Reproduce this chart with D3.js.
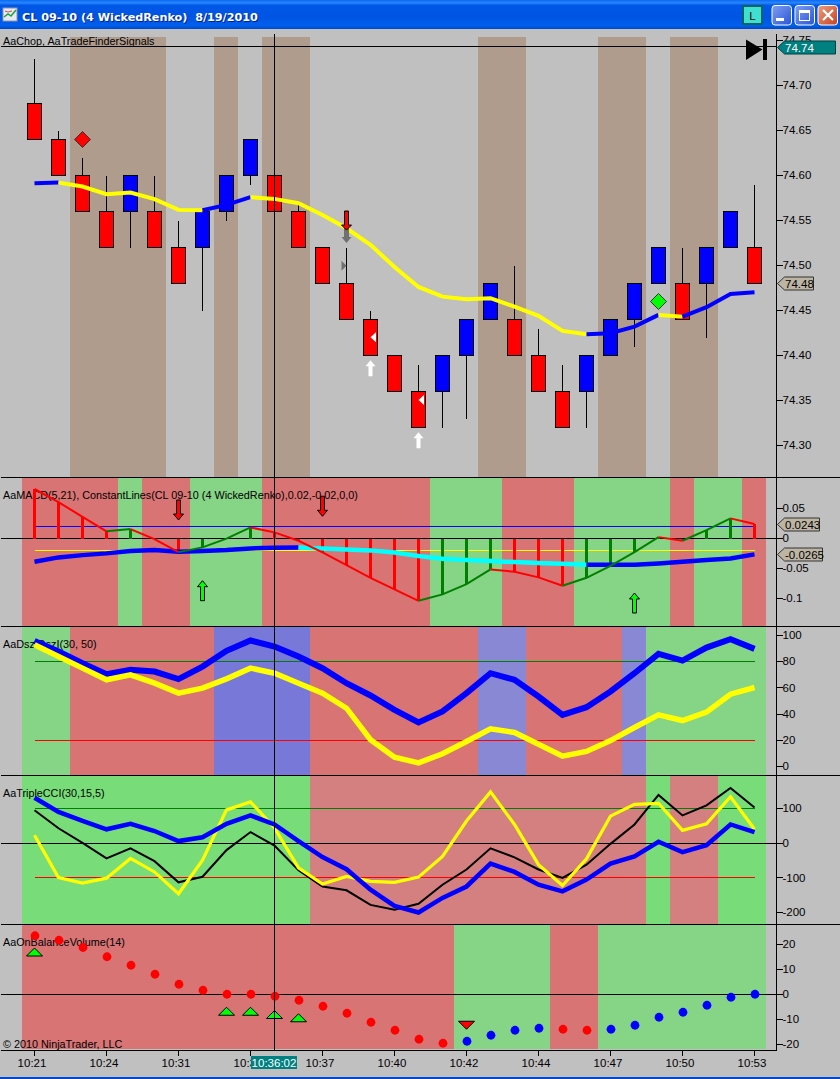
<!DOCTYPE html>
<html>
<head>
<meta charset="utf-8">
<script src="https://cdn.jsdelivr.net/npm/d3@7"></script>
<style>
html, body { margin: 0; padding: 0; background: #c0c0c0; overflow: hidden; }
svg { display: block; }
text { font-family: "Liberation Sans", Arial, sans-serif; font-size: 10.8px; fill: #000; }
.crisp { shape-rendering: crispEdges; }
.line { fill: none; stroke-linejoin: miter; }
</style>
</head>
<body>
<div id="root"></div>
<script>
// bars
var bars = d3.range(31);
var timeTicks = ['10:21','10:24','10:31','10:34','10:37','10:40','10:42','10:44','10:47','10:50','10:53'];
var barOpen  = [74.68,74.64,74.60,74.56,74.56,74.56,74.52,74.52,74.56,74.60,74.60,74.56,74.52,74.48,74.44,74.40,74.36,74.36,74.40,74.44,74.44,74.40,74.36,74.36,74.40,74.44,74.48,74.48,74.48,74.52,74.52];
var barClose = [74.64,74.60,74.56,74.52,74.60,74.52,74.48,74.56,74.60,74.64,74.56,74.52,74.48,74.44,74.40,74.36,74.32,74.40,74.44,74.48,74.40,74.36,74.32,74.40,74.44,74.48,74.52,74.44,74.52,74.56,74.48];
var barHigh  = [74.73,74.65,74.62,74.60,74.60,74.60,74.55,74.56,74.60,74.64,74.60,74.57,74.52,74.52,74.45,74.40,74.39,74.40,74.44,74.48,74.50,74.43,74.39,74.40,74.44,74.48,74.52,74.52,74.52,74.56,74.59];
var barLow   = [74.64,74.60,74.56,74.52,74.52,74.52,74.48,74.45,74.55,74.59,74.56,74.52,74.48,74.44,74.40,74.36,74.32,74.32,74.33,74.44,74.40,74.36,74.32,74.32,74.40,74.41,74.48,74.44,74.42,74.52,74.48];
var maLine = [74.5914,74.5921,74.5877,74.5792,74.581,74.5737,74.5618,74.5614,74.5673,74.5759,74.574,74.5692,74.5562,74.5414,74.5229,74.4984,74.4762,74.4654,74.4626,74.4637,74.4543,74.444,74.4273,74.4237,74.4248,74.4321,74.4451,74.4432,74.4537,74.4684,74.4703];
var maColor = 'bbyyyyyybbyyyyyyyyyyyyyybbbybbb'.split('');
var chopBars = [2,3,4,5,8,10,11,19,20,24,25,27,28];

// indicator values
var macdDiff = [0.0825,0.0607,0.036,0.012,0.0157,-0.001,-0.0227,-0.0148,-0.0002,0.0185,0.0102,-0.0038,-0.0232,-0.0443,-0.0655,-0.0848,-0.1038,-0.0932,-0.076,-0.0515,-0.0555,-0.0648,-0.0788,-0.0655,-0.0455,-0.0227,0.0023,-0.0038,0.014,0.0335,0.0243];
var macdAvg = [-0.0388,-0.0315,-0.0277,-0.0248,-0.021,-0.0193,-0.0222,-0.021,-0.0193,-0.0165,-0.0155,-0.0148,-0.0165,-0.0182,-0.0198,-0.0232,-0.0293,-0.0338,-0.036,-0.0377,-0.0393,-0.041,-0.0422,-0.0438,-0.0438,-0.0438,-0.0415,-0.0388,-0.036,-0.0332,-0.0265];
var macdAvgColor = 'bbbbbbbbbbbbccccccccccccbbbbbbb'.split('');
var macdZone = 'rrrrgrrgggrrrrrrrgggrrrggggrggr'.split('');
var macdTicks = [0.05, 0, -0.05, -0.1];

var dszBlue = [95.9,87.8,78.9,70.5,73.8,72.5,66.7,76.3,88.3,96.2,91.6,84,75,63.6,54.2,43.3,33.6,42,56,71.2,66.2,53.4,39.4,45.3,57.3,71.2,86,80.9,90.8,97.2,89.8];
var dszYellow = [92.9,84,75.1,66.2,70,63.6,56,59.8,66.9,75.1,71.2,63.6,56,44.5,20.4,7.1,2.8,9.7,19.1,28.8,26,17,7.9,11.5,19.8,29.8,39.4,35.1,41.5,55.2,60.3];
var dszZone = 'ggrrrrrrbbbbrrrrrrrddrrrrdggggg'.split('');
var dszTicks = [100,80,60,40,20,0];

var cciSlow = [131,90,64,40,56,35,6,17,56,80,54,6,-40,-75,-134,-181,-200,-158,-125,-59,-83,-120,-139,-105,-59,-38,4,-26,-6,54,32];
var cciMid = [95,43,1,-44,-15,-52,-113,-97,-20,32,-7,-78,-125,-136,-178,-192,-175,-120,-76,-15,-41,-76,-100,-62,-2,54,139,80,109,159,103];
var cciFast = [23,-99,-115,-101,-44,-83,-146,-49,96,119,44,-71,-118,-96,-110,-113,-98,-38,64,148,54,-62,-122,-45,78,112,115,37,56,134,40];
var cciZone = 'ggggggggggggrrrrrrrrrrrrrrgrrgg'.split('');
var cciTicks = [100,0,-100,-200];

var obvValues = [23.5,21.7,18.8,15.1,11.7,8.1,4.1,1.7,0.1,0.1,-0.7,-2.3,-4.7,-7.5,-11.1,-14.3,-17.9,-19.5,-18.7,-16.3,-14.3,-13.5,-13.9,-14.3,-13.9,-12.3,-9.1,-7.1,-4.3,-1.1,0.1];
var obvColor = 'rrrrrrrrrrrrrrrrrrbbbbrrbbbbbbb'.split('');
var obvZone = 'rrrrrrrrrrrrrrrrrrggggrrggggggg'.split('');
var obvTicks = [20,10,0,-10,-20];

// signal markers: bar index + value on the panel's scale
var priceTicks = [74.75,74.70,74.65,74.60,74.55,74.50,74.45,74.40,74.35,74.30];
var diamonds = [{i:2, v:74.64, c:'#ff0000'}, {i:26, v:74.46, c:'#00ff00'}];
var whiteUp = [{i:14, v:74.3858}, {i:16, v:74.3058}];
var whiteLeft = [{i:14, v:74.4202}, {i:16, v:74.3506}];
var greyDown = [{i:13, v:74.5361}];
var redDown = [{i:13, v:74.5494}];
var greyRight = [{i:13, v:74.4998}];
var macdDown = [{i:6, v:0.0475}, {i:12, v:0.0537}];
var macdUp = [{i:7, v:-0.087}, {i:25, v:-0.1075}];
var obvUp = [{i:0, v:17}, {i:8, v:-6.7}, {i:9, v:-6.7}, {i:10, v:-8}, {i:11, v:-9.3}];
var obvDown = [{i:18, v:-12.3}];

var crossBar = 10, crossPrice = 74.7433;

var W = 840, H = 1079;
var RED = '#ff0000', BLUE = '#0000ff', YELLOW = '#ffff00', CYAN = '#00ffff', GREEN = '#008000';

var svg = d3.select('#root').append('svg').attr('width', W).attr('height', H);

svg.append('rect').attr('width', W).attr('height', H).attr('fill', '#c0c0c0');

var x = d3.scaleLinear().domain([-0.5, 30.5]).range([22, 766]);
var yPrice = d3.scaleLinear().domain([74.30, 74.70]).range([445.5, 85.5]);
var yMacd = d3.scaleLinear().domain([-0.1, 0.05]).range([598.5, 508.5]);
var yDsz = d3.scaleLinear().domain([0, 100]).range([766.5, 635.5]);
var yCci = d3.scaleLinear().domain([-200, 100]).range([912.5, 808.5]);
var yObv = d3.scaleLinear().domain([-20, 20]).range([1044.5, 944.5]);

function cx(i) { return x(i) + 0.5; }

// zone backgrounds
function zones(zoneList, top, bottom, colors) {
    svg.append('g').attr('class', 'crisp').selectAll('rect')
        .data(zoneList)
        .enter().append('rect')
        .attr('x', function(d, i) { return x(i - 0.5); })
        .attr('width', x(1) - x(0))
        .attr('y', top)
        .attr('height', bottom - top)
        .attr('fill', function(d) { return colors[d]; });
}

svg.append('g').attr('class', 'crisp').selectAll('rect')
    .data(chopBars)
    .enter().append('rect')
    .attr('x', function(d) { return x(d - 0.5); })
    .attr('width', x(1) - x(0))
    .attr('y', 37)
    .attr('height', 440)
    .attr('fill', '#b09c8c');

zones(macdZone, 478, 626, {r: '#d87474', g: '#86d486'});
zones(dszZone, 627, 775, {r: '#d87474', g: '#86d486', b: '#7878d8', d: '#8888d4'});
zones(cciZone, 776, 924, {r: '#d48080', g: '#78dc78'});
zones(obvZone, 925, 1049, {r: '#d87474', g: '#86d486'});

// panel titles sit under the marks
var titles = [
    ['AaChop, AaTradeFinderSignals', 45],
    ['AaMACD(5,21), ConstantLines(CL 09-10 (4 WickedRenko),0.02,-0.02,0,0)', 499],
    ['AaDszIDszI(30, 50)', 648],
    ['AaTripleCCI(30,15,5)', 797],
    ['AaOnBalanceVolume(14)', 946],
    ['\u00a9 2010 NinjaTrader, LLC', 1048]
];
svg.append('g').selectAll('text')
    .data(titles)
    .enter().append('text')
    .attr('x', 3)
    .attr('y', function(d) { return d[1]; })
    .text(function(d) { return d[0]; });

// horizontal rules
function hline(y, x0, x1, color) {
    svg.append('line').attr('class', 'crisp')
        .attr('x1', x0).attr('x2', x1)
        .attr('y1', y).attr('y2', y)
        .attr('stroke', color);
}
[477.5, 626.5, 775.5, 924.5].forEach(function(y) { hline(y, 1, W, '#000'); });
hline(1050.5, 1, 776, '#000');
hline(yMacd(0), 1, 776, '#000');
hline(yCci(0), 1, 776, '#000');
hline(yObv(0), 1, 776, '#000');
hline(yMacd(0.02), cx(0), cx(30), BLUE);
hline(yMacd(-0.02), cx(0), cx(30), YELLOW);
hline(yDsz(80), cx(0), cx(30), GREEN);
hline(yDsz(20), cx(0), cx(30), RED);
hline(yCci(100), cx(0), cx(30), GREEN);
hline(yCci(-100), cx(0), cx(30), RED);

// line whose colour changes along the way, one path per run of a colour
function colorLine(values, colorOf, yScale, width) {
    var line = d3.line().x(function(i) { return cx(i); }).y(function(i) { return yScale(values[i]); });
    var start = 0;
    for (var i = 1; i < values.length; i++) {
        if (i == values.length - 1 || colorOf(i + 1) != colorOf(i)) {
            svg.append('path').attr('class', 'line')
                .attr('d', line(d3.range(start, i + 1)))
                .attr('stroke', colorOf(i))
                .attr('stroke-width', width);
            start = i;
        }
    }
}
function plainLine(values, color, yScale, width) {
    colorLine(values, function() { return color; }, yScale, width);
}

// candles
var candle = svg.append('g').selectAll('g').data(bars).enter().append('g');
candle.append('line').attr('class', 'crisp')
    .attr('x1', cx).attr('x2', cx)
    .attr('y1', function(i) { return yPrice(barHigh[i]); })
    .attr('y2', function(i) { return yPrice(barLow[i]); })
    .attr('stroke', '#000');
candle.append('rect').attr('class', 'crisp')
    .attr('x', function(i) { return cx(i) - 7; })
    .attr('width', 14)
    .attr('y', function(i) { return yPrice(Math.max(barOpen[i], barClose[i])); })
    .attr('height', function(i) { return yPrice(Math.min(barOpen[i], barClose[i])) - yPrice(Math.max(barOpen[i], barClose[i])); })
    .attr('fill', function(i) { return barClose[i] > barOpen[i] ? BLUE : RED; })
    .attr('stroke', '#000');

colorLine(maLine, function(i) { return maColor[i] == 'b' ? BLUE : YELLOW; }, yPrice, 4);

// MACD histogram and lines
svg.append('g').attr('class', 'crisp').selectAll('line')
    .data(bars)
    .enter().append('line')
    .attr('x1', cx).attr('x2', cx)
    .attr('y1', yMacd(0))
    .attr('y2', function(i) { return yMacd(macdDiff[i]); })
    .attr('stroke', function(i) { return macdZone[i] == 'r' ? RED : GREEN; })
    .attr('stroke-width', 3);
colorLine(macdAvg, function(i) { return macdAvgColor[i] == 'b' ? BLUE : CYAN; }, yMacd, 4.5);
colorLine(macdDiff, function(i) { return macdZone[i] == 'r' ? RED : GREEN; }, yMacd, 2);

plainLine(dszBlue, BLUE, yDsz, 6);
plainLine(dszYellow, YELLOW, yDsz, 5.5);

plainLine(cciMid, '#000', yCci, 2);
plainLine(cciFast, YELLOW, yCci, 3.2);
plainLine(cciSlow, BLUE, yCci, 4.5);

// OBV dots
svg.append('g').selectAll('circle')
    .data(bars)
    .enter().append('circle')
    .attr('cx', function(i) { return cx(i) + 0.5; })
    .attr('cy', function(i) { return yObv(obvValues[i]); })
    .attr('r', 4.4)
    .attr('fill', function(i) { return obvColor[i] == 'r' ? RED : BLUE; });

// markers
svg.append('g').selectAll('path')
    .data(diamonds)
    .enter().append('path')
    .attr('d', 'M0,-8L8,0L0,8L-8,0Z')
    .attr('transform', function(d) { return 'translate(' + cx(d.i) + ',' + yPrice(d.v) + ')'; })
    .attr('fill', function(d) { return d.c; })
    .attr('stroke', '#333');

var ARROW_DOWN = 'M-2,-10L2,-10L2,4L5,4L0,10L-5,4L-2,4Z';
var ARROW_UP = 'M-2,10L2,10L2,-4L5,-4L0,-10L-5,-4L-2,-4Z';

function arrows(list, yScale, shape, fill, stroke) {
    svg.append('g').selectAll('path')
        .data(list)
        .enter().append('path')
        .attr('d', shape)
        .attr('transform', function(d) { return 'translate(' + cx(d.i) + ',' + yScale(d.v) + ')'; })
        .attr('fill', fill)
        .attr('stroke', stroke);
}
arrows(macdDown, yMacd, ARROW_DOWN, RED, '#000');
arrows(macdUp, yMacd, ARROW_UP, '#00ff00', '#000');
arrows(whiteUp, yPrice, 'M-2,8L2,8L2,-2L5,-2L0,-8L-5,-2L-2,-2Z', '#fff', 'none');
arrows(whiteLeft, yPrice, 'M0,0L5.5,-5L5.5,5Z', '#fff', 'none');
arrows(greyDown, yPrice, 'M-2.5,-10L2.5,-10L2.5,4L5,4L0,10L-5,4L-2.5,4Z', '#707070', 'none');
arrows(redDown, yPrice, 'M-2,-10L2,-10L2,4L5,4L0,9L-5,4L-2,4Z', RED, '#000');
arrows(greyRight, yPrice, 'M0,0L-5,-5L-5,5Z', '#707070', 'none');
arrows(obvUp, yObv, 'M0,-4L8,4L-8,4Z', '#00ff00', '#000');
arrows(obvDown, yObv, 'M0,4L8,-4L-8,-4Z', RED, '#000');

// right axes
function rightAxis(yScale, values, format) {
    var g = svg.append('g')
        .attr('transform', 'translate(776.5,0)')
        .call(d3.axisRight(yScale).tickValues(values).tickSize(6).tickPadding(0).offset(0).tickFormat(format));
    g.select('.domain').remove();
    g.selectAll('.tick line').attr('class', 'crisp').attr('stroke', '#000');
    g.selectAll('.tick text').style('font-family', '"Liberation Sans", Arial, sans-serif').style('font-size', '11.5px').attr('fill', '#000');
}
rightAxis(yPrice, priceTicks, d3.format('.2f'));
rightAxis(yMacd, macdTicks, function(d) { return d == 0 ? '0' : String(d); });
rightAxis(yDsz, dszTicks, String);
rightAxis(yCci, cciTicks, String);
rightAxis(yObv, obvTicks, String);

svg.append('line').attr('class', 'crisp')
    .attr('x1', 776.5).attr('x2', 776.5).attr('y1', 34).attr('y2', 1051)
    .attr('stroke', '#000');

// time axis
var timeIndex = d3.range(0, 31, 3);
var xAxisG = svg.append('g')
    .attr('transform', 'translate(0.5,1050.5)')
    .call(d3.axisBottom(x).tickValues(timeIndex).tickSize(5).tickPadding(3).offset(0)
        .tickFormat(function(d, i) { return timeTicks[i]; }));
xAxisG.select('.domain').remove();
xAxisG.selectAll('.tick line').attr('class', 'crisp').attr('stroke', '#000');
xAxisG.selectAll('.tick text').attr('dx', -2.5).style('font-family', '"Liberation Sans", Arial, sans-serif').style('font-size', '11.5px').attr('fill', '#000');

// flags on the price axis
function flag(y, label, right, fill, textFill, stroke) {
    var y0 = Math.round(y) + 0.5;
    svg.append('path')
        .attr('d', 'M777.5,' + y0 + 'L784.5,' + (y0 - 6.5) + 'L' + right + ',' + (y0 - 6.5) + 'L' + right + ',' + (y0 + 6.5) + 'L784.5,' + (y0 + 6.5) + 'Z')
        .attr('fill', fill)
        .attr('stroke', stroke);
    svg.append('text')
        .attr('x', 785).attr('y', y0 + 4.5)
        .style('font-size', '11.5px')
        .style('fill', textFill)
        .text(label);
}
flag(yPrice(crossPrice), '74.74', 835.5, '#008080', '#fff', '#004040');
flag(yPrice(barClose[30]), '74.48', 813.5, '#bdb5a3', '#000', '#333');
flag(yMacd(macdDiff[30]), '0.0243', 819.5, '#bdb5a3', '#000', '#333');
flag(yMacd(macdAvg[30]), '-0.0265', 822.5, '#bdb5a3', '#000', '#333');

// crosshair
hline(yPrice(crossPrice), 1, 776, '#000');
svg.append('line').attr('class', 'crisp')
    .attr('x1', cx(crossBar)).attr('x2', cx(crossBar)).attr('y1', 34).attr('y2', 1050)
    .attr('stroke', '#000');
svg.append('rect').attr('class', 'crisp')
    .attr('x', 251).attr('y', 1056).attr('width', 46).attr('height', 13)
    .attr('fill', '#008080');
svg.append('text')
    .attr('x', 274).attr('y', 1067)
    .attr('text-anchor', 'middle')
    .style('font-size', '11.5px')
    .style('fill', '#fff')
    .text('10:36:02');

// end-of-chart marker
svg.append('path').attr('d', 'M746,39.5L762.5,49.5L746,60Z').attr('fill', '#000');
svg.append('rect').attr('class', 'crisp').attr('x', 763).attr('y', 39).attr('width', 4).attr('height', 21).attr('fill', '#000');

// window title bar
var defs = svg.append('defs');
var grad = defs.append('linearGradient').attr('id', 'titleGrad').attr('x1', 0).attr('x2', 0).attr('y1', 0).attr('y2', 1);
[[0, '#0a6af0'], [0.1, '#2a86ff'], [0.18, '#0058e6'], [0.6, '#0054e3'], [0.88, '#0060ee'], [1, '#0048c8']].forEach(function(s) {
    grad.append('stop').attr('offset', s[0]).attr('stop-color', s[1]);
});
var closeGrad = defs.append('linearGradient').attr('id', 'closeGrad').attr('x1', 0).attr('x2', 1).attr('y1', 0).attr('y2', 1);
closeGrad.append('stop').attr('offset', 0).attr('stop-color', '#e8a080');
closeGrad.append('stop').attr('offset', 1).attr('stop-color', '#c84020');
var btnGrad = defs.append('linearGradient').attr('id', 'btnGrad').attr('x1', 0).attr('x2', 1).attr('y1', 0).attr('y2', 1);
btnGrad.append('stop').attr('offset', 0).attr('stop-color', '#7f9ff0');
btnGrad.append('stop').attr('offset', 1).attr('stop-color', '#2a55d8');

svg.append('rect').attr('width', W).attr('height', 29).attr('fill', 'url(#titleGrad)');
svg.append('rect').attr('x', 0).attr('y', 1077).attr('width', W).attr('height', 2).attr('fill', '#0048d0');

// small chart icon
var icon = svg.append('g').attr('transform', 'translate(3,8)');
icon.append('rect').attr('width', 14).attr('height', 13).attr('fill', '#e8e8f0').attr('stroke', '#9098a8');
icon.append('path').attr('d', 'M1,9L5,6L8,8L13,2').attr('fill', 'none').attr('stroke', '#20a040').attr('stroke-width', 1.5);
icon.append('path').attr('d', 'M2,3L5,4L9,3').attr('fill', 'none').attr('stroke', '#d05050');

var titleText = 'CL 09-10 (4 WickedRenko)  8/19/2010';
svg.append('text').attr('x', 23).attr('y', 21.5).attr('xml:space', 'preserve')
    .style('font-family', '"DejaVu Sans", sans-serif').style('font-weight', 'bold').style('font-size', '11.2px').style('white-space', 'pre')
    .style('fill', '#00208a').text(titleText);
svg.append('text').attr('x', 22).attr('y', 20.5).attr('xml:space', 'preserve')
    .style('font-family', '"DejaVu Sans", sans-serif').style('font-weight', 'bold').style('font-size', '11.2px').style('white-space', 'pre')
    .style('fill', '#fff').text(titleText);

// L box + window buttons
svg.append('rect').attr('x', 743).attr('y', 6).attr('width', 19).attr('height', 18).attr('fill', '#40e0d0').attr('stroke', '#006460').attr('stroke-width', 2);
svg.append('text').attr('x', 752.5).attr('y', 20).attr('text-anchor', 'middle').style('font-size', '11.5px').text('L');

function winButton(left, fill) {
    return svg.append('rect').attr('x', left).attr('y', 5.5).attr('width', 19.5).attr('height', 19.5).attr('rx', 3)
        .attr('fill', fill).attr('stroke', '#fff');
}
winButton(772, 'url(#btnGrad)');
winButton(795, 'url(#btnGrad)');
winButton(818, 'url(#closeGrad)');
svg.append('rect').attr('x', 776).attr('y', 18).attr('width', 8).attr('height', 3).attr('fill', '#fff');
svg.append('rect').attr('x', 799.5).attr('y', 10.5).attr('width', 10).attr('height', 10).attr('fill', 'none').attr('stroke', '#fff');
svg.append('rect').attr('x', 799).attr('y', 10).attr('width', 11).attr('height', 3).attr('fill', '#fff');
svg.append('path').attr('d', 'M823,10L833,20M833,10L823,20').attr('stroke', '#fff').attr('stroke-width', 2.2);
</script>
</body>
</html>
